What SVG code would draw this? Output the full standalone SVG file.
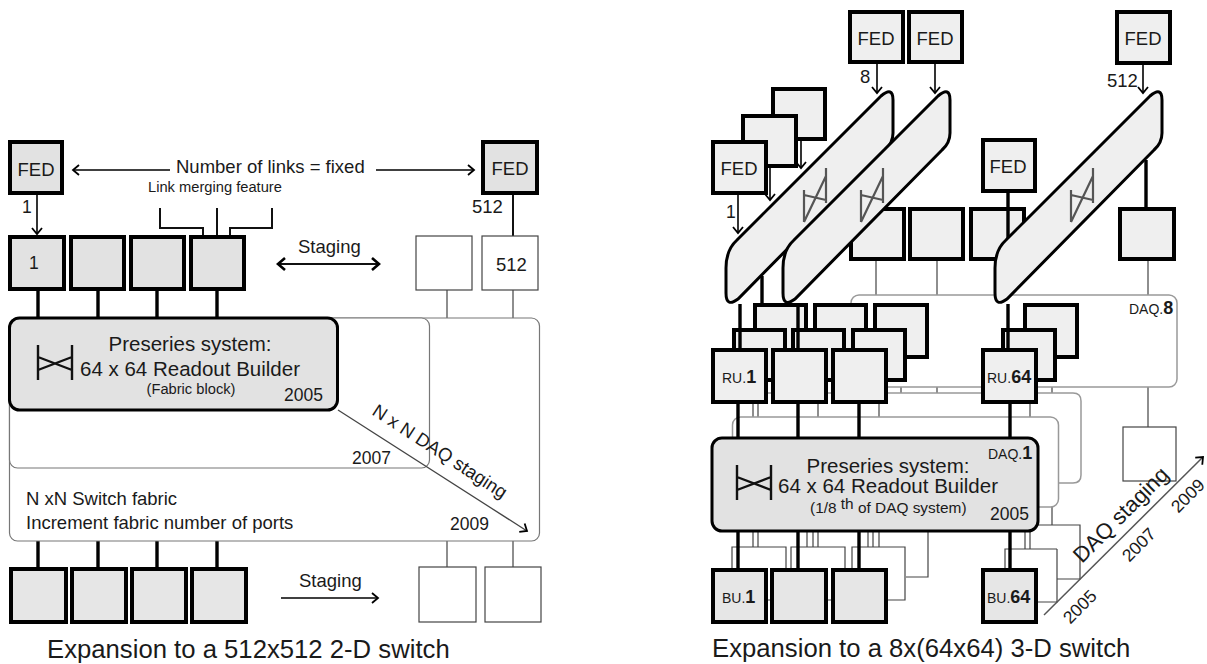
<svg xmlns="http://www.w3.org/2000/svg" width="1207" height="664" viewBox="0 0 1207 664">
<style>
text{font-family:"Liberation Sans",Arial,sans-serif;fill:#1a1a1a}
.c{text-anchor:middle}
.box{fill:#e2e2e2;stroke:#000;stroke-width:4}
.feb{fill:#efefef;stroke:#000;stroke-width:4}
.bu{fill:#e6e6e6;stroke:#000;stroke-width:4}
.wb{fill:#fff;stroke:#444;stroke-width:1.2}
.thick{fill:none;stroke:#000;stroke-width:3.4}
.med{fill:none;stroke:#111;stroke-width:2}
.thin{fill:none;stroke:#444;stroke-width:1.2}
.arr{fill:none;stroke:#000;stroke-width:1.6}
.rnd{fill:#fff;stroke:#777;stroke-width:1.2}
.rnd2{fill:#fff;stroke:#999;stroke-width:1.5}
.block{fill:#e2e2e2;stroke:#000;stroke-width:3}
.slant{fill:#efefef;stroke:#000;stroke-width:3}
.ico{fill:none;stroke:#111;stroke-width:2.4}
.ico2{fill:none;stroke:#555;stroke-width:2.2}
.t20{font-size:20.5px}.fed{font-size:18.5px}.t18{font-size:18.5px}.num{font-size:17.5px}.t15{font-size:14.7px}.sm{font-size:14px}.cap{font-size:25.7px}
.b{font-weight:bold;font-size:18px}
</style>
<defs>
<marker id="v" markerUnits="userSpaceOnUse" markerWidth="14" markerHeight="14" refX="9" refY="7" orient="auto-start-reverse"><path d="M3,2 L9,7 L3,12" fill="none" stroke="#000" stroke-width="1.8"/></marker>
<marker id="vb" markerUnits="userSpaceOnUse" markerWidth="16" markerHeight="16" refX="11" refY="8" orient="auto-start-reverse"><path d="M4,2 L11,8 L4,14" fill="none" stroke="#000" stroke-width="2.6"/></marker>
<path id="sl" d="M726,293 L726,268 Q726,250 737,240 L881,96 Q893,86 893,100 L893,133 Q893,143 885,150 L738,299 Q726,308 726,293 Z"/>
<g id="icon3"><path d="M804,190V222M826,168V203M804,222L826,176M804,195L826,200"/></g>
</defs>

<!-- LEFT -->
<g id="left-connectors">
<path class="thick" d="M38,290V318M98,290V318M157,290V318M217,290V318M38,541V567M98,541V567M157,541V567M217,541V567"/>
<path class="med" d="M513,194V236"/>
<path class="thin" d="M447,290V318M513,290V318M447,541V567M513,541V567"/>
<path class="med" d="M160,208V228H203V235M217,208V235M272,208V228H230V235"/>
<path class="arr" d="M37,194V234" marker-end="url(#v)"/>
<path class="arr" d="M170,170H73" marker-end="url(#v)"/>
<path class="arr" d="M376,170H474" marker-end="url(#v)"/>
<path class="med" d="M278,264H379" marker-start="url(#vb)" marker-end="url(#vb)"/>
<path class="arr" d="M281,598H378" marker-end="url(#v)"/>
</g>
<g id="fabric-2009"><rect class="rnd" x="9.5" y="318" width="530" height="223" rx="8"/>
<text class="t18" x="26" y="505">N xN Switch fabric</text>
<text class="t18" x="26" y="529">Increment fabric number of ports</text>
<text class="num" x="450" y="530">2009</text></g>
<g id="fabric-2007"><rect class="rnd" x="9.5" y="318" width="420" height="150" rx="8"/>
<text class="num" x="352" y="464">2007</text></g>
<g id="nxn-staging">
<path d="M338,410L527,531" fill="none" stroke="#444" stroke-width="1.3" marker-end="url(#v)"/>
<text class="t18" transform="translate(371,414) rotate(33)">N x N DAQ staging</text>
</g>
<g id="preseries-left"><rect class="block" x="9.5" y="318" width="328" height="92" rx="10"/>
<path class="ico" d="M38,345V380M72,345V380M38,357L72,370M38,370L72,357"/>
<text class="c t20" x="190" y="351">Preseries system:</text>
<text class="c t20" x="190" y="376">64 x 64 Readout Builder</text>
<text class="c t15" x="191" y="394">(Fabric block)</text>
<text class="num" x="284" y="401">2005</text></g>
<g id="l-fed1"><rect class="box" x="10" y="142" width="52" height="51"/><text class="c fed" x="36" y="176">FED</text></g>
<g id="l-fed512"><rect class="box" x="483" y="142" width="54" height="51"/><text class="c fed" x="510" y="175">FED</text></g>
<g id="l-top1"><rect class="box" x="10" y="237" width="54" height="52"/><text class="num" x="29" y="269">1</text></g>
<g id="l-top2"><rect class="box" x="71" y="237" width="53" height="52"/></g>
<g id="l-top3"><rect class="box" x="131" y="237" width="53" height="52"/></g>
<g id="l-top4"><rect class="box" x="191" y="237" width="53" height="52"/></g>
<g id="l-top5"><rect class="wb" x="416" y="236" width="56" height="54"/></g>
<g id="l-top6"><rect class="wb" x="482" y="236" width="56" height="54"/><text class="t18" x="496" y="271">512</text></g>
<g id="l-bot1"><rect class="bu" x="11" y="569" width="55" height="53"/></g>
<g id="l-bot2"><rect class="bu" x="72" y="569" width="54" height="53"/></g>
<g id="l-bot3"><rect class="bu" x="132" y="569" width="54" height="53"/></g>
<g id="l-bot4"><rect class="bu" x="192" y="569" width="54" height="53"/></g>
<g id="l-bot5"><rect class="wb" x="419" y="567" width="57" height="55"/></g>
<g id="l-bot6"><rect class="wb" x="485" y="567" width="56" height="55"/></g>
<g id="left-labels">
<text class="t18" x="176" y="173">Number of links = fixed</text>
<text class="t15" x="148" y="192">Link merging feature</text>
<text class="num" x="22" y="213">1</text>
<text class="t18" x="472" y="213">512</text>
<text class="t18" x="298" y="253">Staging</text>
<text class="t18" x="299" y="587">Staging</text>
<text class="cap" x="47" y="658">Expansion to a 512x512 2-D switch</text>
</g>

<!-- RIGHT -->
<g id="right-back-connectors">
<path class="thin" d="M876,259V295M937,259V295M1148,259V295M1148,387V427M937,387V393"/>
<path class="thin" d="M901,381V393M1052,381V393M753,403V417M758,403V417M818,403V417M879,403V417M1030,403V417"/>
<path class="rnd2" style="fill:none" d="M768,393H1073Q1081,393 1081,401V475Q1081,483 1073,483H1059"/>
<path class="thin" d="M1052,507V525H1080V579H1057M1038,525H1052M928,531V577H906M1057,549V602H1038"/>
</g>
<g id="daq8"><rect class="rnd2" x="851" y="295" width="326" height="92" rx="8"/>
<text class="sm" x="1129" y="314">DAQ.<tspan class="b">8</tspan></text></g>
<g id="daq-mid"><rect class="rnd2" x="732.5" y="417" width="326" height="90" rx="8"/></g>
<g id="r-row1"><rect class="feb" x="851" y="209" width="53" height="50"/></g>
<g id="r-row2"><rect class="feb" x="910" y="209" width="53" height="50"/></g>
<g id="r-row3"><rect class="feb" x="971" y="209" width="53" height="50"/></g>
<g id="r-row4"><rect class="feb" x="1120" y="209" width="54" height="50"/></g>
<g id="r-fed-back"><rect class="feb" x="773" y="89" width="52" height="50"/></g>
<g id="r-fed-mid"><rect class="feb" x="743" y="116" width="53" height="50"/></g>
<g id="r-fed-front"><rect class="feb" x="713" y="142" width="53" height="51"/><text class="c fed" x="739" y="175">FED</text></g>
<g id="r-fed-8a"><rect class="feb" x="850" y="12" width="53" height="50"/><text class="c fed" x="876" y="45">FED</text></g>
<g id="r-fed-8b"><rect class="feb" x="909" y="12" width="53" height="50"/><text class="c fed" x="935" y="45">FED</text></g>
<g id="r-fed-512"><rect class="feb" x="1117" y="12" width="53" height="51"/><text class="c fed" x="1143" y="45">FED</text></g>
<g id="r-fed-mid64"><rect class="feb" x="983" y="140" width="52" height="51"/><text class="c fed" x="1008" y="173">FED</text></g>
<g id="right-top-connectors">
<path class="thick" d="M1008,192V240M1146,160V208"/>
<path class="arr" d="M877,64V93" marker-end="url(#v)"/>
<path class="arr" d="M935,64V93" marker-end="url(#v)"/>
<path class="arr" d="M1143,65V93" marker-end="url(#v)"/>
<path class="arr" d="M738,193V233" marker-end="url(#v)"/>
<path class="arr" d="M770,167V200" marker-end="url(#v)"/>
<path class="arr" d="M801,140V168" marker-end="url(#v)"/>
<path class="thick" d="M762,276V304"/>
</g>
<g id="slant-a"><use href="#sl" class="slant"/><use href="#icon3" class="ico2"/></g>
<g id="slant-b"><use href="#sl" class="slant" x="57"/><use href="#icon3" class="ico2" x="57"/></g>
<g id="slant-c"><use href="#sl" class="slant" x="269"/><use href="#icon3" class="ico2" x="267"/></g>
<g id="ru-l3"><rect class="feb" x="755" y="305" width="51" height="52"/><rect class="feb" x="815" y="305" width="51" height="52"/><rect class="feb" x="875" y="305" width="52" height="52"/><rect class="feb" x="1025" y="305" width="52" height="52"/></g>
<g id="ru-l2"><rect class="feb" x="734" y="330" width="51" height="50"/><rect class="feb" x="793" y="330" width="51" height="50"/><rect class="feb" x="853" y="330" width="52" height="50"/><rect class="feb" x="1003" y="330" width="52" height="50"/></g>
<g id="right-mid-connectors"><path class="thick" d="M740,304V349M798,304V349M1008,304V349"/></g>
<g id="ru1"><rect class="feb" x="713" y="350" width="53" height="52"/><text x="722" y="383" class="sm">RU.<tspan class="b">1</tspan></text></g>
<g id="ru2"><rect class="feb" x="773" y="350" width="53" height="52"/></g>
<g id="ru3"><rect class="feb" x="833" y="350" width="53" height="52"/></g>
<g id="ru64"><rect class="feb" x="983" y="350" width="53" height="52"/><text x="987" y="383" class="sm">RU.<tspan class="b">64</tspan></text></g>
<g id="bottom-thin">
<path class="thin" d="M753,531V547M758,531V547M807,531V547M813,531V547M818,531V547M868,531V547M873,531V547M879,531V547M1025,531V549M1030,531V549"/>
<path class="thin" d="M732,568V547H786V568M791,568V547H845V568M852,568V547H905V600H887M766,600H771M827,600H831M1005,568V549H1057"/>
</g>
<g id="right-thick"><path class="thick" d="M738,403V437M798,403V437M859,403V437M1010,403V437M738,531V568M798,531V568M859,531V568M1010,531V568"/></g>
<g id="preseries-right"><rect class="block" x="712" y="438" width="326" height="93" rx="10"/>
<path class="ico" d="M737,465V500M771,465V500M737,477L771,490M737,490L771,477"/>
<text class="c t20" x="888" y="473">Preseries system:</text>
<text class="c t20" x="888" y="493">64 x 64 Readout Builder</text>
<text style="font-size:15.4px" x="810" y="513">(1/8 <tspan dy="-4">th</tspan><tspan dy="4"> of DAQ system)</tspan></text>
<text class="num" x="990" y="520">2005</text>
<text class="sm" x="988" y="459">DAQ.<tspan class="b">1</tspan></text></g>
<g id="bu1"><rect class="bu" x="713" y="570" width="53" height="52"/><text x="722" y="603" class="sm">BU.<tspan class="b">1</tspan></text></g>
<g id="bu2"><rect class="bu" x="772" y="570" width="54" height="52"/></g>
<g id="bu3"><rect class="bu" x="833" y="570" width="53" height="52"/></g>
<g id="bu64"><rect class="bu" x="983" y="570" width="53" height="52"/><text x="987" y="603" class="sm">BU.<tspan class="b">64</tspan></text></g>
<g id="r-white"><rect class="wb" x="1123" y="427" width="53" height="54"/></g>
<g id="daq-staging">
<path d="M1044,615L1203,457" fill="none" stroke="#555" stroke-width="1.5" marker-end="url(#v)"/>
<text class="c" style="font-size:22px" transform="translate(1126,520) rotate(-45)">DAQ staging</text>
<text class="c num" transform="translate(1084,611) rotate(-45)">2005</text>
<text class="c num" transform="translate(1143,549) rotate(-45)">2007</text>
<text class="c num" transform="translate(1192,500) rotate(-45)">2009</text>
</g>
<g id="right-labels">
<text class="t18" x="860" y="83">8</text>
<text class="t18" x="1107" y="87">512</text>
<text class="num" x="726" y="218">1</text>
<text class="cap" x="712" y="657">Expansion to a 8x(64x64) 3-D switch</text>
</g>
</svg>
